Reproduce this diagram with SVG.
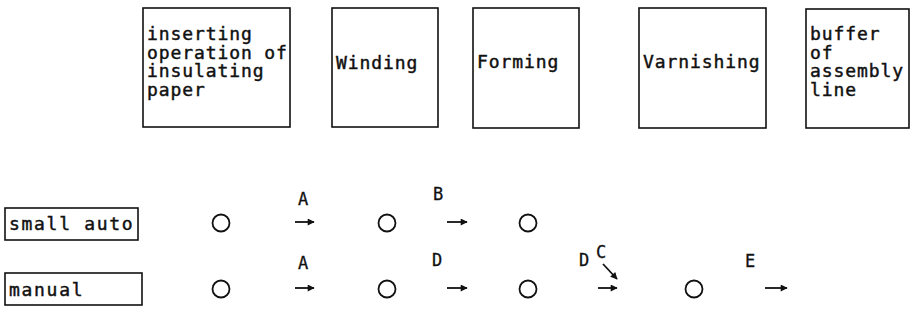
<svg xmlns="http://www.w3.org/2000/svg" width="912" height="329" viewBox="0 0 912 329">
<style>
.box{fill:#fff;stroke:#111;stroke-width:1.6}
.t{font-family:"DejaVu Sans Mono","Liberation Mono",monospace;font-size:18px;letter-spacing:0.9px;fill:#111;stroke:#111;stroke-width:0.45}
.tl{letter-spacing:1.7px}
.lbl{font-family:"DejaVu Sans Mono","Liberation Mono",monospace;font-size:17px;fill:#111;stroke:#111;stroke-width:0.3;text-anchor:middle}
.c{fill:none;stroke:#111;stroke-width:1.8}
.a{stroke:#111;stroke-width:1.8;fill:none}
</style>
<defs>
<marker id="ah" viewBox="0 0 10 10" refX="9" refY="5" markerWidth="8" markerHeight="7" orient="auto" markerUnits="userSpaceOnUse">
<path d="M0,0 L10,5 L0,10 Z" fill="#111"/>
</marker>
</defs>
<rect width="912" height="329" fill="#fff"/>
<g id="n_insert"><rect class="box" x="143" y="8" width="147" height="119"/>
<text class="t" x="147" y="40">inserting</text>
<text class="t" x="147" y="58.5">operation of</text>
<text class="t" x="147" y="77">insulating</text>
<text class="t" x="147" y="95.5">paper</text></g>
<g id="n_winding"><rect class="box" x="332" y="8" width="106" height="119"/>
<text class="t" x="336" y="69">Winding</text></g>
<g id="n_forming"><rect class="box" x="473" y="8" width="106" height="120"/>
<text class="t" x="477" y="68">Forming</text></g>
<g id="n_varnish"><rect class="box" x="639" y="8" width="127" height="120"/>
<text class="t" x="643" y="68">Varnishing</text></g>
<g id="n_buffer"><rect class="box" x="806" y="9" width="103" height="119"/>
<text class="t" x="810" y="40">buffer</text>
<text class="t" x="810" y="58.5">of</text>
<text class="t" x="810" y="77">assembly</text>
<text class="t" x="810" y="95.5">line</text></g>
<g id="n_small"><rect class="box" x="5" y="208" width="133" height="32"/>
<text class="t tl" x="9" y="230">small auto</text></g>
<g id="n_manual"><rect class="box" x="5" y="273" width="137" height="32"/>
<text class="t tl" x="9" y="296">manual</text></g>
<g id="n_circles">
<circle class="c" cx="221" cy="223" r="8.5"/>
<circle class="c" cx="387" cy="223" r="8.5"/>
<circle class="c" cx="528" cy="223" r="8.5"/>
<circle class="c" cx="221" cy="289" r="8.5"/>
<circle class="c" cx="387" cy="289" r="8.5"/>
<circle class="c" cx="528" cy="289" r="8.5"/>
<circle class="c" cx="694" cy="289" r="8.5"/>
</g>
<g id="connectors">
<line class="a" x1="295" y1="222" x2="314" y2="222" marker-end="url(#ah)"/>
<line class="a" x1="447" y1="222" x2="467" y2="222" marker-end="url(#ah)"/>
<line class="a" x1="603" y1="264" x2="617" y2="279" marker-end="url(#ah)"/>
<line class="a" x1="295" y1="288" x2="314" y2="288" marker-end="url(#ah)"/>
<line class="a" x1="447" y1="288" x2="467" y2="288" marker-end="url(#ah)"/>
<line class="a" x1="598" y1="288" x2="617" y2="288" marker-end="url(#ah)"/>
<line class="a" x1="765" y1="288" x2="787" y2="288" marker-end="url(#ah)"/>
<text class="lbl" x="303" y="205">A</text>
<text class="lbl" x="438" y="200">B</text>
<text class="lbl" x="601" y="258">C</text>
<text class="lbl" x="303" y="269">A</text>
<text class="lbl" x="437" y="266">D</text>
<text class="lbl" x="584" y="266">D</text>
<text class="lbl" x="750" y="267">E</text>
</g>
</svg>
